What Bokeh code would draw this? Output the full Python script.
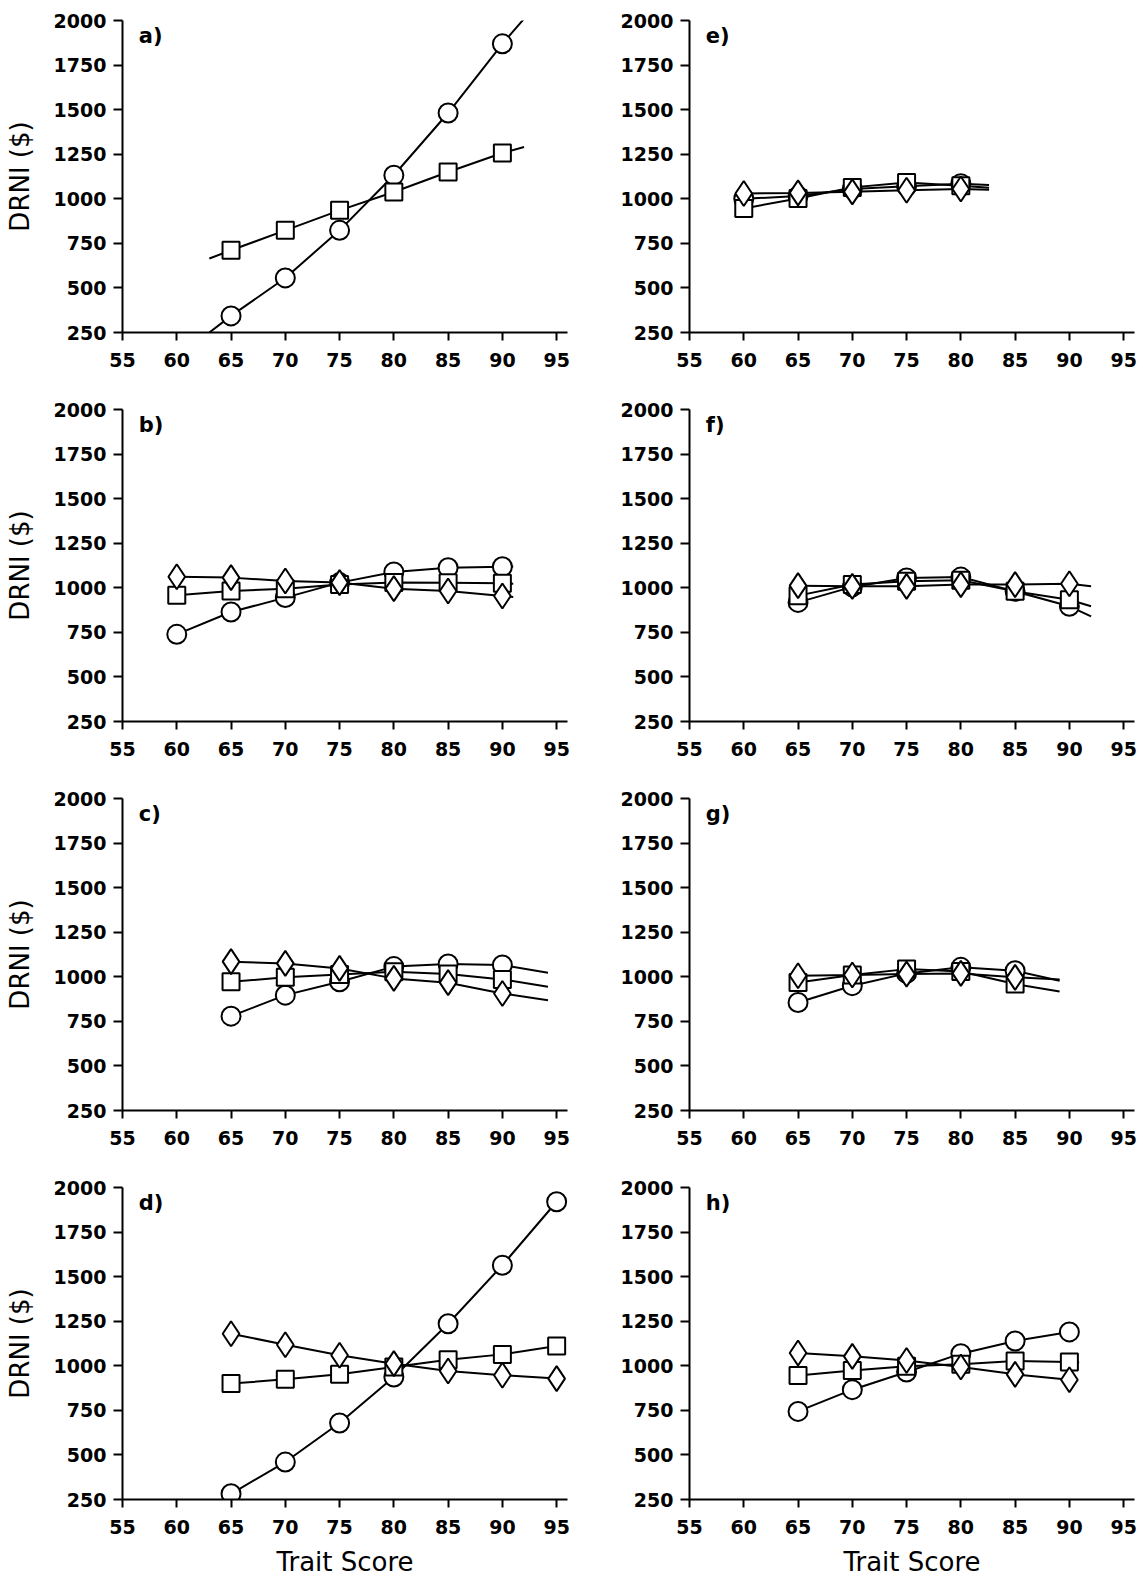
from bokeh.plotting import figure
from bokeh.layouts import column, row
from bokeh.models import FixedTicker, Range1d, Label
from bokeh.embed import file_html
from bokeh.resources import INLINE

# ---------------- data ----------------
Y_TICKS = [250, 500, 750, 1000, 1250, 1500, 1750, 2000]
X_TICKS = [55, 60, 65, 70, 75, 80, 85, 90, 95]

# panel a
a_x = [65, 70, 75, 80, 85, 90]
a_circle = [343, 556, 823, 1132, 1481, 1869]
a_square = [711, 823, 935, 1038, 1150, 1257]
a_circle_start, a_circle_end = [63, 250], [92, 2010]
a_square_start, a_square_end = [63, 665], [92, 1290]

# panel b
b_x = [60, 65, 70, 75, 80, 85, 90]
b_circle = [739, 864, 945, 1029, 1089, 1113, 1118]
b_square = [958, 982, 995, 1019, 1030, 1028, 1025]
b_diamond = [1062, 1057, 1038, 1029, 995, 982, 954]
b_circle_end, b_square_end, b_diamond_end = [91, 1119], [91, 1022], [91, 948]

# panel c
c_x = [65, 70, 75, 80, 85, 90]
c_circle = [779, 897, 972, 1057, 1072, 1066]
c_square = [972, 997, 1013, 1028, 1015, 985]
c_diamond = [1085, 1075, 1047, 991, 967, 906]
c_circle_end, c_square_end, c_diamond_end = [94.2, 1023], [94.2, 944], [94.2, 869]

# panel d
d_x = [65, 70, 75, 80, 85, 90, 95]
d_circle = [282, 460, 679, 937, 1236, 1564, 1920]
d_square = [900, 924, 952, 993, 1034, 1064, 1111]
d_diamond = [1180, 1118, 1059, 1012, 971, 947, 928]
d_square_start = [64.3, 900]

# panel e
e_x = [60, 65, 70, 75, 80]
e_circle = [1000, 1015, 1055, 1070, 1085]
e_square = [946, 1002, 1064, 1092, 1073]
e_diamond = [1030, 1033, 1039, 1048, 1055]
e_circle_end, e_square_end, e_diamond_end = [82.6, 1078], [82.6, 1062], [82.6, 1050]

# panel f
f_x = [65, 70, 75, 80, 85, 90]
f_circle = [918, 1005, 1055, 1060, 980, 896]
f_square = [956, 1018, 1036, 1042, 980, 933]
f_diamond = [1012, 1008, 1008, 1018, 1018, 1023]
f_circle_end, f_square_end, f_diamond_end = [92, 840], [92, 896], [92, 1008]

# panel g
g_x = [65, 70, 75, 80, 85]
g_circle = [856, 950, 1019, 1053, 1034]
g_square = [968, 1010, 1043, 1030, 959]
g_diamond = [1006, 1010, 1015, 1019, 997]
g_circle_end, g_square_end, g_diamond_end = [89.1, 978], [89.1, 918], [89.1, 985]

# panel h
h_x = [65, 70, 75, 80, 85, 90]
h_circle = [744, 866, 965, 1068, 1139, 1190]
h_square = [946, 974, 997, 1008, 1027, 1021]
h_diamond = [1072, 1053, 1030, 993, 952, 922]
h_square_end = [90.9, 1018]

PANEL_LABELS = ["a)", "b)", "c)", "d)", "e)", "f)", "g)", "h)"]
Y_LABEL = "DRNI ($)"
X_LABEL = "Trait Score"

# ---------------- styling ----------------
FONT = "DejaVu Sans"
FRAME_W = 445
FRAME_H = 312
TOP = 20


def series(marker, x, y, start=None, end=None):
    lx = ([start[0]] if start else []) + list(x) + ([end[0]] if end else [])
    ly = ([start[1]] if start else []) + list(y) + ([end[1]] if end else [])
    return dict(marker=marker, x=x, y=y, lx=lx, ly=ly)


panels = {
    "a": [series("circle", a_x, a_circle, a_circle_start, a_circle_end),
          series("square", a_x, a_square, a_square_start, a_square_end)],
    "b": [series("circle", b_x, b_circle, None, b_circle_end),
          series("square", b_x, b_square, None, b_square_end),
          series("diamond", b_x, b_diamond, None, b_diamond_end)],
    "c": [series("circle", c_x, c_circle, None, c_circle_end),
          series("square", c_x, c_square, None, c_square_end),
          series("diamond", c_x, c_diamond, None, c_diamond_end)],
    "d": [series("circle", d_x, d_circle),
          series("square", d_x, d_square, d_square_start, None),
          series("diamond", d_x, d_diamond)],
    "e": [series("circle", e_x, e_circle, None, e_circle_end),
          series("square", e_x, e_square, None, e_square_end),
          series("diamond", e_x, e_diamond, None, e_diamond_end)],
    "f": [series("circle", f_x, f_circle, None, f_circle_end),
          series("square", f_x, f_square, None, f_square_end),
          series("diamond", f_x, f_diamond, None, f_diamond_end)],
    "g": [series("circle", g_x, g_circle, None, g_circle_end),
          series("square", g_x, g_square, None, g_square_end),
          series("diamond", g_x, g_diamond, None, g_diamond_end)],
    "h": [series("circle", h_x, h_circle),
          series("square", h_x, h_square, None, h_square_end),
          series("diamond", h_x, h_diamond)],
}

MARKER_SIZE = {"circle": 19, "square": 17, "diamond": 25}


def make_panel(key, label, left_col, bottom_row):
    bl = 122 if left_col else 114
    br = 8 if left_col else 6
    bb = 80 if bottom_row else 57
    p = figure(width=bl + FRAME_W + br, height=TOP + FRAME_H + bb,
               x_range=Range1d(55, 96), y_range=Range1d(250, 2000),
               output_backend="svg", toolbar_location=None,
               min_border_left=bl, min_border_right=br,
               min_border_top=TOP, min_border_bottom=bb)
    p.outline_line_color = None
    p.xgrid.grid_line_color = None
    p.ygrid.grid_line_color = None
    p.background_fill_color = "white"
    p.border_fill_color = "white"

    p.xaxis.ticker = FixedTicker(ticks=X_TICKS)
    p.yaxis.ticker = FixedTicker(ticks=Y_TICKS)
    for ax in (p.xaxis[0], p.yaxis[0]):
        ax.axis_line_width = 2
        ax.axis_line_color = "black"
        ax.major_tick_line_width = 2
        ax.major_tick_line_color = "black"
        ax.major_tick_in = 0
        ax.minor_tick_line_color = None
        ax.major_label_text_font = FONT
        ax.major_label_text_font_size = "19px"
        ax.major_label_text_font_style = "bold"
        ax.major_label_text_color = "black"
        ax.axis_label_text_font = FONT
        ax.axis_label_text_font_size = "26px"
        ax.axis_label_text_font_style = "normal"
        ax.axis_label_text_color = "black"
    p.yaxis.major_tick_out = 9
    p.yaxis.major_label_standoff = 7
    p.xaxis.major_tick_out = 8
    p.xaxis.major_label_standoff = 12
    if left_col:
        p.yaxis.axis_label = Y_LABEL
        p.yaxis.axis_label_standoff = 16
    if bottom_row:
        p.xaxis.axis_label = X_LABEL
        p.xaxis.axis_label_standoff = 10

    for s in panels[key]:
        p.line(s["lx"], s["ly"], line_color="black", line_width=2)
    for s in panels[key]:
        p.scatter(s["x"], s["y"], marker=s["marker"], size=MARKER_SIZE[s["marker"]],
                  fill_color="white", line_color="black", line_width=2)

    p.add_layout(Label(x=56.5, y=1915, text=label, text_font=FONT,
                       text_font_size="21px", text_font_style="bold",
                       text_color="black", text_baseline="middle", text_align="left"))
    return p


keys = ["a", "b", "c", "d", "e", "f", "g", "h"]
figs = {}
for i, k in enumerate(keys):
    left = i < 4
    bottom = (i % 4) == 3
    figs[k] = make_panel(k, PANEL_LABELS[i], left, bottom)

layout = column(
    row(figs["a"], figs["e"]),
    row(figs["b"], figs["f"]),
    row(figs["c"], figs["g"]),
    row(figs["d"], figs["h"]),
)

open("out.html", "w").write(file_html(layout, INLINE))
